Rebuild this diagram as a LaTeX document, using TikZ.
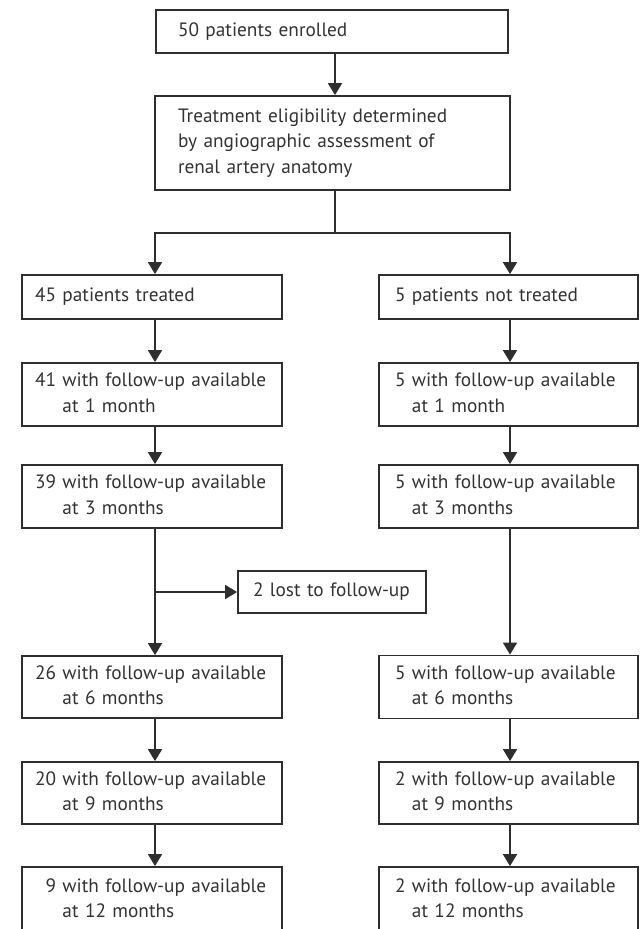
\documentclass[tikz,border=0pt]{standalone}
\usepackage{fontspec}
\setmainfont{PT Sans}
\usetikzlibrary{arrows.meta}
\definecolor{linec}{HTML}{2E2E2E}
\definecolor{textc}{HTML}{333333}
\newcommand\fuTab[2]{\begin{tabular}{@{}r@{\ }l@{}}#1&with follow-up available\\&#2\end{tabular}}
\tikzset{
  box/.style={draw=linec, line width=1.8pt, rectangle, inner ysep=0pt, align=left,
    font=\fontsize{19.3}{25.5}\selectfont, text=textc},
  lbox/.style={box, minimum width=260pt, text width=234pt, inner xsep=13pt},
  rbox/.style={box, minimum width=259pt, text width=227pt, inner xsep=16pt},
  arr/.style={draw=linec, line width=1.8pt, -{Triangle[width=14pt,length=12pt]}},
  ln/.style={draw=linec, line width=1.8pt}
}
\begin{document}
\begin{tikzpicture}[x=1pt,y=-1pt]
\useasboundingbox (0,0) rectangle (640,929);
\clip (0,0) rectangle (640,929);
\fill[white] (0,0) rectangle (640,929);
\node[box, minimum width=352pt, minimum height=43pt, text width=308pt, inner xsep=22pt] (top) at (332,31.5) {50 patients enrolled};
\node[box, minimum width=355pt, minimum height=94pt, text width=309pt, inner xsep=23pt] (elig) at (332.5,143) {Treatment eligibility determined\\by angiographic assessment of\\renal artery anatomy};
\coordinate (split) at (335,233);
\node[lbox, minimum height=44pt] (l1) at (152,297) {45 patients treated};
\node[rbox, minimum height=44pt] (r1) at (508.5,297) {5 patients not treated};
\node[lbox, minimum height=63pt] (l2) at (152,394.5) {\fuTab{41}{at 1 month}};
\node[rbox, minimum height=63pt] (r2) at (508.5,394.5) {\fuTab{5}{at 1 month}};
\node[lbox, minimum height=63pt] (l3) at (152,496.5) {\fuTab{39}{at 3 months}};
\node[rbox, minimum height=63pt] (r3) at (508.5,496.5) {\fuTab{5}{at 3 months}};
\node[box, minimum width=188pt, minimum height=42pt, text width=158pt, inner xsep=15pt] (lost) at (332,592) {2 lost to follow-up};
\node[lbox, minimum height=62pt] (l4) at (152,687) {\fuTab{26}{at 6 months}};
\node[rbox, minimum height=63pt] (r4) at (508.5,687) {\fuTab{5}{at 6 months}};
\node[lbox, minimum height=62pt] (l5) at (152,793) {\fuTab{20}{at 9 months}};
\node[rbox, minimum height=62pt] (r5) at (508.5,793) {\fuTab{2}{at 9 months}};
\node[lbox, minimum height=66pt] (l6) at (152,900) {\fuTab{\phantom{2}9}{at 12 months}};
\node[rbox, minimum height=66pt] (r6) at (508.5,900) {\fuTab{2}{at 12 months}};
\draw[arr] (split |- top.south) -- (split |- elig.north);
\draw[ln] (split |- elig.south) -- (split);
\draw[arr] (split) -| ([xshift=3pt]l1.north);
\draw[arr] (split) -| ([xshift=1.5pt]r1.north);
\draw[arr] ([xshift=3pt]l1.south) -- ([xshift=3pt]l2.north);
\draw[arr] ([xshift=3pt]l2.south) -- ([xshift=3pt]l3.north);
\draw[arr] ([xshift=3pt]l3.south) -- ([xshift=3pt]l4.north);
\draw[arr] ([xshift=3pt]l4.south) -- ([xshift=3pt]l5.north);
\draw[arr] ([xshift=3pt]l5.south) -- ([xshift=3pt]l6.north);
\draw[arr] ([xshift=1.5pt]r1.south) -- ([xshift=1.5pt]r2.north);
\draw[arr] ([xshift=1.5pt]r2.south) -- ([xshift=1.5pt]r3.north);
\draw[arr] ([xshift=1.5pt]r3.south) -- ([xshift=1.5pt]r4.north);
\draw[arr] ([xshift=1.5pt]r4.south) -- ([xshift=1.5pt]r5.north);
\draw[arr] ([xshift=1.5pt]r5.south) -- ([xshift=1.5pt]r6.north);
\draw[arr] ([xshift=3pt]l3.center |- lost.west) -- (lost.west);
\end{tikzpicture}
\end{document}
